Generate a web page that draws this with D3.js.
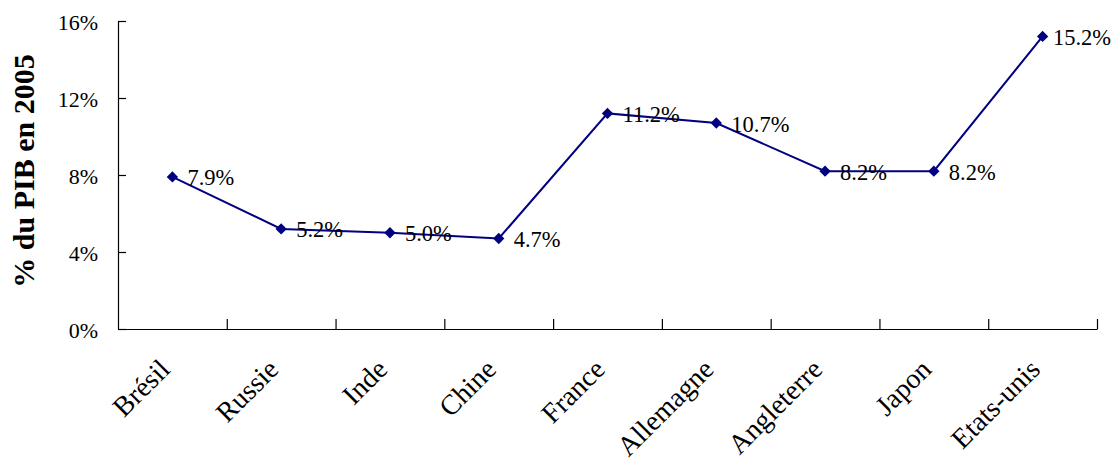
<!DOCTYPE html>
<html>
<head>
<meta charset="utf-8">
<script src="https://cdn.jsdelivr.net/npm/d3@7/dist/d3.min.js"></script>
<style>
  html, body { margin: 0; padding: 0; background: #fff; }
  svg { display: block; }
  text { font-family: "Times New Roman", "Liberation Serif", serif; fill: #000; }
</style>
</head>
<body>
<svg id="chart" width="1120" height="463"></svg>
<script>
const categories = ["Brésil", "Russie", "Inde", "Chine", "France", "Allemagne", "Angleterre", "Japon", "Etats-unis"];
const values = [7.9, 5.2, 5.0, 4.7, 11.2, 10.7, 8.2, 8.2, 15.2];
const yTicks = [0, 4, 8, 12, 16];
const yTitle = "% du PIB en 2005";

const W = 1120, H = 463;
const mLeft = 118, mRight = 1097, mTop = 21, mBottom = 329;
const serif = "'Times New Roman', 'Liberation Serif', serif";

const svg = d3.select("#chart");

const x = d3.scaleBand().domain(categories).range([mLeft, mRight]).paddingInner(0).paddingOuter(0);
const y = d3.scaleLinear().domain([0, 16]).range([mBottom, mTop]);
const xb = d3.scaleLinear().domain([0, categories.length]).range([mLeft, mRight]);

// y axis
const yAxis = svg.append("g")
  .attr("transform", `translate(${mLeft},0)`)
  .call(d3.axisLeft(y).tickValues(yTicks).tickFormat(d => d + "%").tickSizeInner(-8).tickSizeOuter(0).tickPadding(20));
yAxis.attr("font-family", serif).attr("font-size", 22);
yAxis.select(".domain").attr("stroke", "#000").attr("stroke-width", 1.2);
yAxis.selectAll(".tick line").attr("stroke", "#000").attr("stroke-width", 1.2);
yAxis.selectAll(".tick text")
  .attr("fill", "#000")
  .attr("dy", null)
  .attr("y", 8);

// x axis boundary ticks
const xAxisTicks = svg.append("g")
  .attr("transform", `translate(0,${mBottom})`)
  .call(d3.axisBottom(xb).tickValues(d3.range(0, categories.length + 1)).tickFormat("").tickSizeInner(-10).tickSizeOuter(0));
xAxisTicks.select(".domain").attr("stroke", "#000").attr("stroke-width", 1.2);
xAxisTicks.selectAll(".tick line").attr("stroke", "#000").attr("stroke-width", 1.2);
xAxisTicks.selectAll(".tick").filter(d => d === 0).remove();

// x axis labels (rotated)
const xAxis = svg.append("g")
  .attr("transform", `translate(0,${mBottom})`)
  .call(d3.axisBottom(x).tickSize(0));
xAxis.attr("font-family", serif).attr("font-size", 28);
xAxis.select(".domain").remove();
xAxis.selectAll(".tick text")
  .attr("fill", "#000")
  .attr("text-anchor", "end")
  .attr("dy", null)
  .attr("y", 0)
  .attr("transform", "translate(-1,42) rotate(-45)");

// line
const pts = categories.map((c, i) => ({ c, v: values[i] }));
const line = d3.line().x(d => x(d.c) + x.bandwidth() / 2).y(d => y(d.v));
svg.append("path")
  .datum(pts)
  .attr("d", line)
  .attr("fill", "none")
  .attr("stroke", "#000080")
  .attr("stroke-width", 2);

// markers
svg.selectAll(".mk")
  .data(pts)
  .enter().append("path")
  .attr("class", "mk")
  .attr("d", d3.symbol().type(d3.symbolSquare).size(64))
  .attr("transform", d => `translate(${x(d.c) + x.bandwidth() / 2},${y(d.v)}) rotate(45)`)
  .attr("fill", "#000080");

// value labels
const fmt = d3.format(".1f");
const lbl = svg.selectAll(".vl")
  .data(pts)
  .enter().append("text")
  .attr("class", "vl")
  .attr("font-family", serif)
  .attr("font-size", 22.5)
  .attr("x", d => x(d.c) + x.bandwidth() / 2 + 15)
  .attr("y", d => y(d.v) + 8.5)
  .text(d => fmt(d.v) + "%");
lbl.each(function () {
  const bb = this.getBBox();
  if (bb.x + bb.width > W - 9) d3.select(this).attr("x", W - 9 - bb.width);
});

// y title
svg.append("text")
  .attr("transform", `translate(34,171) rotate(-90)`)
  .attr("text-anchor", "middle")
  .attr("font-family", serif)
  .attr("font-size", 30)
  .attr("font-weight", "bold")
  .text(yTitle);
</script>
</body>
</html>
